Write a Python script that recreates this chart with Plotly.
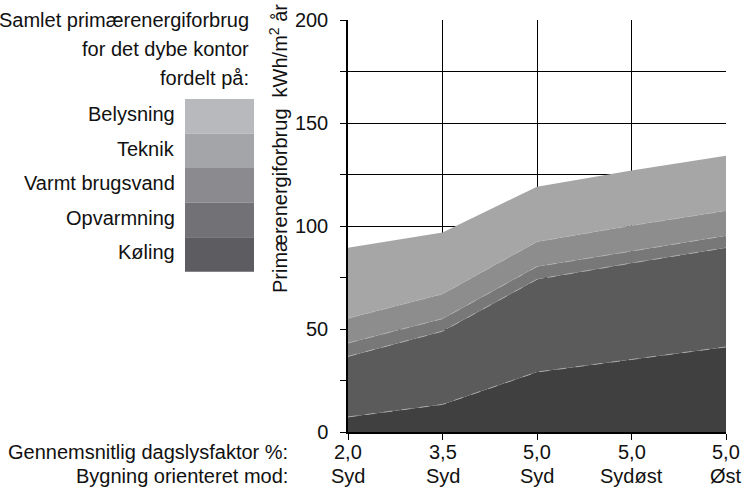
import plotly.graph_objects as go

# ---- data ----
daylight = ["2,0", "3,5", "5,0", "5,0", "5,0"]
orientation = ["Syd", "Syd", "Syd", "Sydøst", "Øst"]
koeling = [7.3, 13.4, 29.1, 35.3, 41.3]
opvarmning = [29.4, 35.5, 45.0, 46.7, 48.2]
varmt_brugsvand = [6.5, 6.1, 6.2, 5.9, 5.8]
teknik = [12.0, 12.0, 12.1, 12.3, 12.1]
belysning = [34.3, 29.8, 26.7, 26.8, 26.7]
y_ticks = [0, 50, 100, 150, 200]

series_names = ["Køling", "Opvarmning", "Varmt brugsvand", "Teknik", "Belysning"]
series_values = [koeling, opvarmning, varmt_brugsvand, teknik, belysning]
chart_colors = ["#404040", "#5b5b5b", "#787878", "#8d8d8d", "#a6a6a6"]
legend_colors = ["#5d5c61", "#727276", "#8b8b8f", "#a4a5a8", "#b8b9bc"]
title_lines = ["Samlet primærenergiforbrug", "for det dybe kontor", "fordelt på:"]

FONT = "Liberation Sans, Arial, sans-serif"
FS = 20
TXT = "#111111"

W, H = 745, 498
ML, MT = 348, 20
PW, PH = 378, 412
MR, MB = W - ML - PW, H - MT - PH


def px(x):
    return (x - ML) / PW


def py(y):
    return (MT + PH - y) / PH


def note(text, x, y, xanchor="right", **kw):
    d = dict(text=text, xref="paper", yref="paper", x=px(x), y=py(y),
             xanchor=xanchor, yanchor="middle", showarrow=False,
             font=dict(family=FONT, size=FS, color=TXT))
    d.update(kw)
    return d


xs = list(range(len(daylight)))
fig = go.Figure()
for i, (name, vals) in enumerate(zip(series_names, series_values)):
    top = i == len(series_names) - 1
    fig.add_trace(go.Scatter(
        x=xs, y=vals, name=name, mode="lines", stackgroup="one",
        fillcolor=chart_colors[i],
        line=dict(color="#b4b4b4", width=0 if top else 0.8, dash="dash"),
        showlegend=False, hoverinfo="skip",
    ))

shapes = []
annotations = []

# legend blocks (top = Belysning)
top_y, bot_y = 99, 271.7
n = len(series_names)
bh = (bot_y - top_y) / n
for k in range(n):
    idx = n - 1 - k
    y0 = top_y + k * bh
    y1 = y0 + bh
    shapes.append(dict(type="rect", xref="paper", yref="paper",
                       x0=px(185), x1=px(254), y0=py(y1), y1=py(y0),
                       fillcolor=legend_colors[idx], line=dict(width=0), layer="above"))
    annotations.append(note(series_names[idx], 177, (y0 + y1) / 2 - 2))

for j, line in enumerate(title_lines):
    annotations.append(note(line, 251, 20 + j * 29))

annotations.append(note("Primærenergiforbrug  kWh/m<sup>2</sup> år", 278, 149,
                        xanchor="center", textangle=-90))

annotations.append(note("Gennemsnitlig dagslysfaktor %:", 290, 452))
annotations.append(note("Bygning orienteret mod:", 290, 476))

for xi, d_lab, o_lab in zip(xs, daylight, orientation):
    for lab, yy in ((d_lab, 452), (o_lab, 476)):
        annotations.append(dict(text=lab, xref="x", yref="paper", x=xi, y=py(yy),
                                xanchor="center", yanchor="middle", showarrow=False,
                                font=dict(family=FONT, size=FS, color=TXT)))

fig.update_layout(
    width=W, height=H,
    margin=dict(l=ML, r=MR, t=MT, b=MB, autoexpand=False),
    paper_bgcolor="white", plot_bgcolor="white",
    font=dict(family=FONT, size=FS, color=TXT),
    shapes=shapes, annotations=annotations,
    xaxis=dict(range=[0, len(xs) - 1], tickvals=xs, showticklabels=False,
               showgrid=True, gridcolor="black", gridwidth=1,
               showline=True, linecolor="black", linewidth=1.5,
               ticks="outside", ticklen=6, tickcolor="black",
               zeroline=False, fixedrange=True, automargin=False),
    yaxis=dict(range=[0, 200], tickvals=y_ticks,
               showgrid=True, gridcolor="black", gridwidth=1,
               showline=True, linecolor="black", linewidth=1.5,
               ticks="outside", ticklen=6, tickcolor="black",
               minor=dict(dtick=25, ticks="outside", ticklen=6, tickcolor="black",
                          showgrid=True, gridcolor="black", gridwidth=1),
               zeroline=False, fixedrange=True, ticklabelstandoff=8,
               automargin=False),
)

fig.write_html("out.html", config={"displayModeBar": False},
               post_script="document.body.style.margin='0';document.body.style.overflow='hidden';")
